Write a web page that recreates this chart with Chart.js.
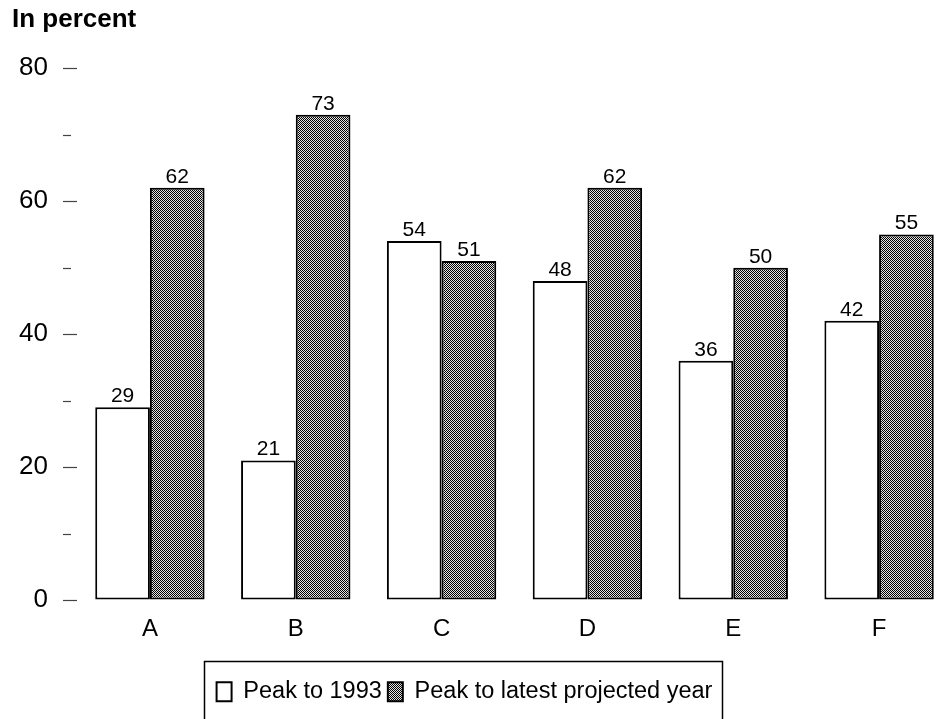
<!DOCTYPE html>
<html>
<head>
<meta charset="utf-8">
<script src="https://cdn.jsdelivr.net/npm/chart.js@4.4.1/dist/chart.umd.min.js"></script>
<style>
    html, body { margin: 0; padding: 0; background: #fff; overflow: hidden; }
    #wrap { width: 946px; height: 719px; overflow: hidden; }
</style>
</head>
<body>
<div id="wrap"><canvas id="chart" width="960" height="719"></canvas></div>
<script>
// Données
const categories = ['A', 'B', 'C', 'D', 'E', 'F'];
const peakTo1993 = [29, 21, 54, 48, 36, 42];
const peakToProjected = [62, 73, 51, 62, 50, 55];
const majorTicks = [0, 20, 40, 60, 80];
const minorTicks = [10, 30, 50, 70];
const seriesLabels = ['Peak to 1993', 'Peak to latest projected year'];

const FONT = '"Liberation Sans", Arial, Helvetica, sans-serif';

// motif tramé (gris pointillé) pour la deuxième série
function makeDither() {
    const c = document.createElement('canvas');
    c.width = 2; c.height = 2;
    const g = c.getContext('2d');
    g.fillStyle = '#e4e4e4';
    g.fillRect(0, 0, 2, 2);
    g.fillStyle = '#000';
    g.fillRect(0, 0, 1, 1);
    g.fillRect(1, 1, 1, 1);
    return g.createPattern(c, 'repeat');
}

// petites graduations intermédiaires de l'axe Y
const minorTickPlugin = {
    id: 'minorTicks',
    afterDraw(chart) {
        const y = chart.scales.y;
        const ctx = chart.ctx;
        ctx.save();
        ctx.strokeStyle = '#444';
        ctx.lineWidth = 1.2;
        minorTicks.forEach(v => {
            const py = Math.round(y.getPixelForValue(v)) + 0.5;
            ctx.beginPath();
            ctx.moveTo(y.right - 14, py);
            ctx.lineTo(y.right - 6, py);
            ctx.stroke();
        });
        ctx.restore();
    }
};

// valeurs au-dessus des barres
const valueLabels = {
    id: 'valueLabels',
    afterDatasetsDraw(chart) {
        const ctx = chart.ctx;
        ctx.save();
        ctx.font = '21px ' + FONT;
        ctx.fillStyle = '#000';
        ctx.textAlign = 'center';
        ctx.textBaseline = 'alphabetic';
        chart.data.datasets.forEach((ds, i) => {
            chart.getDatasetMeta(i).data.forEach((bar, j) => {
                ctx.fillText(ds.data[j], bar.x, bar.y - 5);
            });
        });
        ctx.restore();
    }
};

// légende encadrée, décalée comme sur l'original
const legendFrame = {
    id: 'legendFrame',
    beforeDraw(chart) {
        const lg = chart.legend;
        lg.left = 203;
        lg.right = 726;
        lg.width = lg.right - lg.left;
        lg.top = 674;
        lg.bottom = lg.top + lg.height;
    },
    afterDraw(chart) {
        const ctx = chart.ctx;
        ctx.save();
        ctx.strokeStyle = '#000';
        ctx.lineWidth = 1.5;
        ctx.strokeRect(204.5, 661.5, 518, 80);
        ctx.restore();
    }
};

new Chart(document.getElementById('chart').getContext('2d'), {
    type: 'bar',
    data: {
        labels: categories,
        datasets: [{
            label: seriesLabels[0],
            data: peakTo1993,
            backgroundColor: '#ffffff',
            borderColor: '#000000',
            borderWidth: 2,
            borderSkipped: false
        }, {
            label: seriesLabels[1],
            data: peakToProjected,
            backgroundColor: makeDither(),
            borderColor: '#000000',
            borderWidth: 2,
            borderSkipped: false
        }]
    },
    plugins: [minorTickPlugin, valueLabels, legendFrame],
    options: {
        responsive: false,
        animation: false,
        devicePixelRatio: 1,
        layout: { padding: { left: 12, right: 8, top: 0, bottom: 0 } },
        datasets: { bar: { categoryPercentage: 0.75, barPercentage: 1 } },
        scales: {
            x: {
                grid: { display: false, drawTicks: false },
                border: { display: false },
                ticks: { color: '#000', font: { size: 24, family: FONT }, padding: 15 },
                afterFit: s => { s.height = 79.5; }
            },
            y: {
                min: 0,
                max: 80,
                border: { display: false },
                grid: {
                    drawOnChartArea: false,
                    drawTicks: true,
                    tickLength: 14,
                    tickColor: '#444',
                    tickWidth: 1.2
                },
                afterBuildTicks: s => { s.ticks = majorTicks.map(v => ({ value: v })); },
                ticks: { color: '#000', font: { size: 26, family: FONT }, padding: 15 },
                afterFit: s => { s.width = 65; }
            }
        },
        plugins: {
            title: {
                display: true,
                text: 'In percent',
                align: 'start',
                color: '#000',
                font: { size: 26, weight: 'bold', family: FONT },
                padding: { top: 4, bottom: 33 }
            },
            legend: {
                position: 'bottom',
                labels: {
                    color: '#000',
                    font: { size: 23.5, family: FONT },
                    boxWidth: 15,
                    boxHeight: 19,
                    padding: 6
                }
            },
            tooltip: { enabled: false }
        }
    }
});
</script>
</body>
</html>
